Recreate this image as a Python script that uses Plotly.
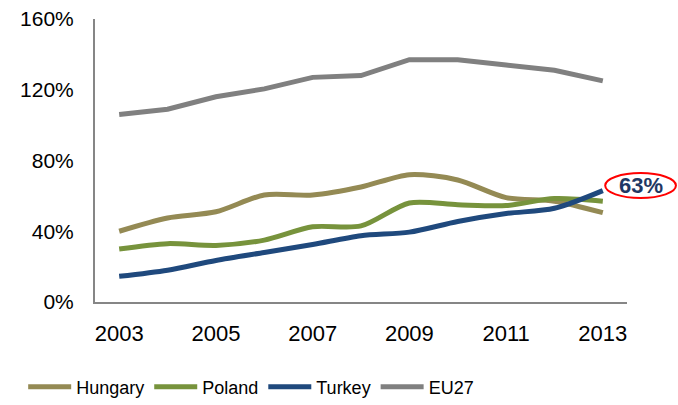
import plotly.graph_objects as go

years = ['2003', '2004', '2005', '2006', '2007', '2008',
         '2009', '2010', '2011', '2012', '2013']
hungary = [40, 47.5, 51, 60.5, 60.5, 65, 72, 69, 59, 57, 50.5]
poland = [30, 33, 32, 35, 42.5, 43, 56, 55, 54.5, 58.5, 57]
turkey = [14.5, 18, 23.5, 28, 32.5, 37.5, 39.5, 45.5, 50, 53, 63]
eu27 = [106, 109, 116, 120.5, 127, 128, 137, 137, 134, 131, 125]

series = [
    ('Hungary', hungary, '#948A54', 'spline'),
    ('Poland', poland, '#77933C', 'spline'),
    ('Turkey', turkey, '#1F497D', 'spline'),
    ('EU27', eu27, '#808080', 'linear'),
]

fig = go.Figure()
for name, vals, color, shape in series:
    fig.add_trace(go.Scatter(
        x=years,
        y=vals,
        mode='lines',
        name=name,
        line=dict(color=color, width=5, shape=shape, smoothing=0.8),
    ))

# red ellipse callout on the last Turkey value
fig.add_shape(type='circle', xref='paper', yref='y',
              x0=0.959, x1=1.092, y0=58.8, y1=72.9,
              line=dict(color='#FF0000', width=2))
fig.add_annotation(xref='paper', yref='y', x=1.027, y=65.8,
                   xanchor='center', yanchor='middle',
                   text='<b>%d%%</b>' % turkey[-1], showarrow=False,
                   font=dict(size=22, color='#1F3864'))

fig.update_layout(
    template='none',
    width=678,
    height=405,
    margin=dict(l=95, r=51, t=19, b=103, autoexpand=False),
    paper_bgcolor='white',
    plot_bgcolor='white',
    font=dict(family='Liberation Sans, Arial', size=21, color='black'),
    showlegend=True,
    legend=dict(
        orientation='h',
        x=-0.135,
        xanchor='left',
        y=-0.235,
        yanchor='top',
        font=dict(size=18),
        itemwidth=43,
        tracegroupgap=0,
        bgcolor='rgba(0,0,0,0)',
    ),
    xaxis=dict(
        type='category',
        range=[-0.5, 10.5],
        tickvals=['2003', '2005', '2007', '2009', '2011', '2013'],
        tickfont=dict(size=22),
        showline=True,
        linecolor='#868686',
        linewidth=2,
        showgrid=False,
        zeroline=False,
        ticks='',
        ticklabelstandoff=11,
        automargin=False,
    ),
    yaxis=dict(
        range=[0, 160],
        dtick=40,
        ticksuffix='%',
        tickfont=dict(size=21),
        showline=True,
        linecolor='#868686',
        linewidth=2,
        showgrid=False,
        zeroline=False,
        ticks='',
        ticklabelstandoff=15,
        automargin=False,
    ),
)

fig.write_html('out.html', config={'displayModeBar': False},
               post_script="document.body.style.margin='0';")
